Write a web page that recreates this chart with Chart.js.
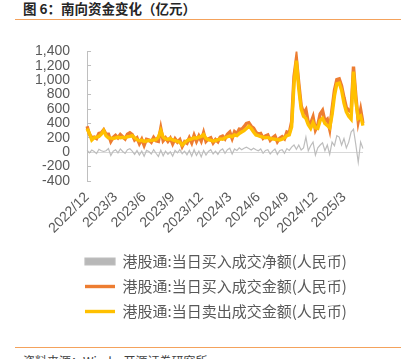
<!DOCTYPE html>
<html lang="zh">
<head>
<meta charset="UTF-8">
<title>南向资金变化</title>
<script src="https://cdn.jsdelivr.net/npm/chart.js"></script>
<style>
  html, body { margin: 0; padding: 0; background: #fff; }
  body { position: relative; width: 405px; height: 359px; overflow: hidden; font-family: "Noto Sans CJK SC", sans-serif; }
  #title { position: absolute; left: 23px; top: 0; font-size: 13.5px; line-height: 17px; font-weight: bold; color: #262626; white-space: nowrap; }
  .rule { position: absolute; left: 15px; width: 386px; height: 1px; background: #F4A25C; }
  #source { position: absolute; left: 23px; top: 353px; font-size: 12px; line-height: 16px; color: #404040; white-space: nowrap; }
  #wrap { position: absolute; left: 0; top: 22px; width: 405px; height: 322px; }
</style>
</head>
<body>
<div id="title">图 6：南向资金变化（亿元）</div>
<div class="rule" style="top:19px"></div>
<div id="wrap"><canvas id="flowChart"></canvas></div>
<div class="rule" style="top:347px"></div>
<div id="source">资料来源：Wind，开源证券研究所</div>

<script>
// months on the axis, about one point per week
const months = ['2022/12', '2023/1', '2023/2', '2023/3', '2023/4', '2023/5', '2023/6', '2023/7', '2023/8',
  '2023/9', '2023/10', '2023/11', '2023/12', '2024/1', '2024/2', '2024/3', '2024/4', '2024/5', '2024/6',
  '2024/7', '2024/8', '2024/9', '2024/10', '2024/11', '2024/12', '2025/1', '2025/2', '2025/3', '2025/4', '2025/5'];
const weekDays = ['1', '8', '15', '22'];
const tickMonths = ['2022/12', '2023/3', '2023/6', '2023/9', '2023/12', '2024/3', '2024/6', '2024/9', '2024/12', '2025/3'];

const seriesNames = ['港股通:当日买入成交净额(人民币)', '港股通:当日买入成交金额(人民币)', '港股通:当日卖出成交金额(人民币)'];

// 亿元
const netAmt = [
  30, -10, 30, 10,   -20, 40, 20, 10,   20, 50, -45, 15,   35, -10, 45, 10,
  -15, 35, 50, 15,   -30, 25, -40, 15,  -55, 25, 10, -25,  35, -15, -60, 30,
  -50, 15, -30, 5,   -55, 25, -10, 35,  -20, 15, -35, 25,  -55, 35, -45, 15,
  -65, 25, -40, 10,  35, -25, 15, -30,  25, 45, -15, 35,   55, -25, 45, 25,
  60, 35, 55, 70,    50, 30, 55, 35,    20, 45, -15, 25,   35, -25, 15, 45,
  -30, 25, 35, -15,  50, 25, 70, 100,   40, 100, 30, 60,   210, 20, 90, 140,
  -40, 60, 100, 130, 20, 100, -30, 140, 90, 230, 210, 100, 190, 60, 140, 280,
  320, 100, -140, 140, 50
];
const buyAmt = [
  360, 250, 200, 210,  190, 260, 270, 310,  250, 250, 150, 205,  235, 200, 245, 215,
  185, 250, 270, 245,  170, 200, 120, 180,  95, 180, 170, 140,   205, 160, 150, 330,
  160, 200, 150, 195,  115, 185, 140, 175,  80, 145, 125, 200,   130, 235, 150, 225,
  155, 270, 150, 185,  200, 130, 175, 145,  210, 225, 185, 250,  280, 190, 285, 255,
  320, 315, 355, 400,  410, 360, 335, 275,  250, 260, 195, 225,  240, 165, 200, 225,
  145, 195, 215, 185,  280, 265, 420, 1050, 1300, 960, 650, 540, 590, 410, 400, 490,
  310, 380, 530, 580,  430, 460, 320, 600,  860, 1010, 1020, 920, 760, 620, 580, 560,
  1190, 780, 430, 590, 400
];
const sellAmt = [
  330, 260, 170, 200,  210, 220, 250, 300,  230, 200, 195, 190,  200, 210, 200, 205,
  200, 215, 220, 230,  200, 175, 160, 165,  150, 155, 160, 165,  170, 175, 210, 300,
  210, 185, 180, 190,  170, 160, 150, 140,  100, 130, 160, 175,  185, 200, 195, 210,
  220, 245, 190, 175,  165, 155, 160, 175,  185, 180, 200, 215,  225, 215, 240, 230,
  260, 280, 300, 330,  360, 330, 280, 240,  230, 215, 210, 200,  205, 190, 185, 180,
  175, 170, 180, 200,  230, 240, 350, 950,  1270, 880, 600, 500, 470, 380, 330, 410,
  340, 330, 440, 470,  400, 370, 340, 520,  780, 950, 960, 860,  680, 560, 500, 460,
  1120, 700, 470, 500, 370
];

const dates = months.flatMap(m => weekDays.map(d => m + '/' + d)).slice(0, sellAmt.length);

const axisFont = { family: '"Liberation Sans", Arial, sans-serif', size: 14 };

// the legend sits under the plot, indented like the original
const legendIndent = {
  id: 'legendIndent',
  afterLayout(chart) {
    const lg = chart.legend;
    if (!lg) return;
    const shift = 61;
    lg.left += shift;
    lg.right += shift;
  }
};

new Chart(document.getElementById('flowChart'), {
  type: 'line',
  data: {
    labels: dates,
    datasets: [{
      label: seriesNames[0],
      data: netAmt,
      borderColor: '#BDBDBD',
      backgroundColor: '#B8B8B8',
      borderWidth: 1.2,
      pointStyle: 'rect',
      order: 2
    }, {
      label: seriesNames[1],
      data: buyAmt,
      borderColor: '#ED7D31',
      backgroundColor: '#ED7D31',
      borderWidth: 3.4,
      pointStyle: 'line',
      order: 1
    }, {
      label: seriesNames[2],
      data: sellAmt,
      borderColor: '#FFC000',
      backgroundColor: '#FFC000',
      borderWidth: 3.4,
      pointStyle: 'line',
      order: 0
    }]
  },
  plugins: [legendIndent],
  options: {
    responsive: true,
    maintainAspectRatio: false,
    animation: false,
    events: [],
    layout: { padding: { left: 14, right: 42, top: 29, bottom: 15 } },
    elements: { point: { radius: 0 }, line: { tension: 0, fill: false } },
    scales: {
      x: {
        afterFit: s => { s.height = 63; },
        border: { display: false },
        grid: { display: false, drawTicks: false },
        ticks: {
          autoSkip: false,
          minRotation: 45,
          maxRotation: 45,
          padding: 8,
          color: '#595959',
          font: axisFont,
          callback: function (value) {
            const d = this.getLabelForValue(value);
            const m = d.slice(0, d.lastIndexOf('/'));
            return d.endsWith('/1') && tickMonths.includes(m) ? m : null;
          }
        }
      },
      y: {
        min: -400,
        max: 1400,
        border: { display: true, color: '#BFBFBF', width: 1 },
        grid: {
          drawTicks: true,
          tickLength: -4,
          tickColor: '#BFBFBF',
          color: c => (c.tick && c.tick.value === 0) ? '#D9D9D9' : 'rgba(0,0,0,0)'
        },
        ticks: {
          stepSize: 200,
          autoSkip: false,
          padding: 21,
          color: '#595959',
          font: axisFont,
          callback: v => v.toLocaleString('en-US')
        }
      }
    },
    plugins: {
      tooltip: { enabled: false },
      legend: {
        position: 'bottom',
        align: 'start',
        labels: {
          usePointStyle: true,
          pointStyleWidth: 30,
          boxHeight: 7,
          padding: 10,
          color: '#595959',
          font: { family: '"Noto Sans CJK SC", sans-serif', size: 15 },
          sort: (a, b) => a.datasetIndex - b.datasetIndex
        }
      }
    }
  }
});
</script>
</body>
</html>
